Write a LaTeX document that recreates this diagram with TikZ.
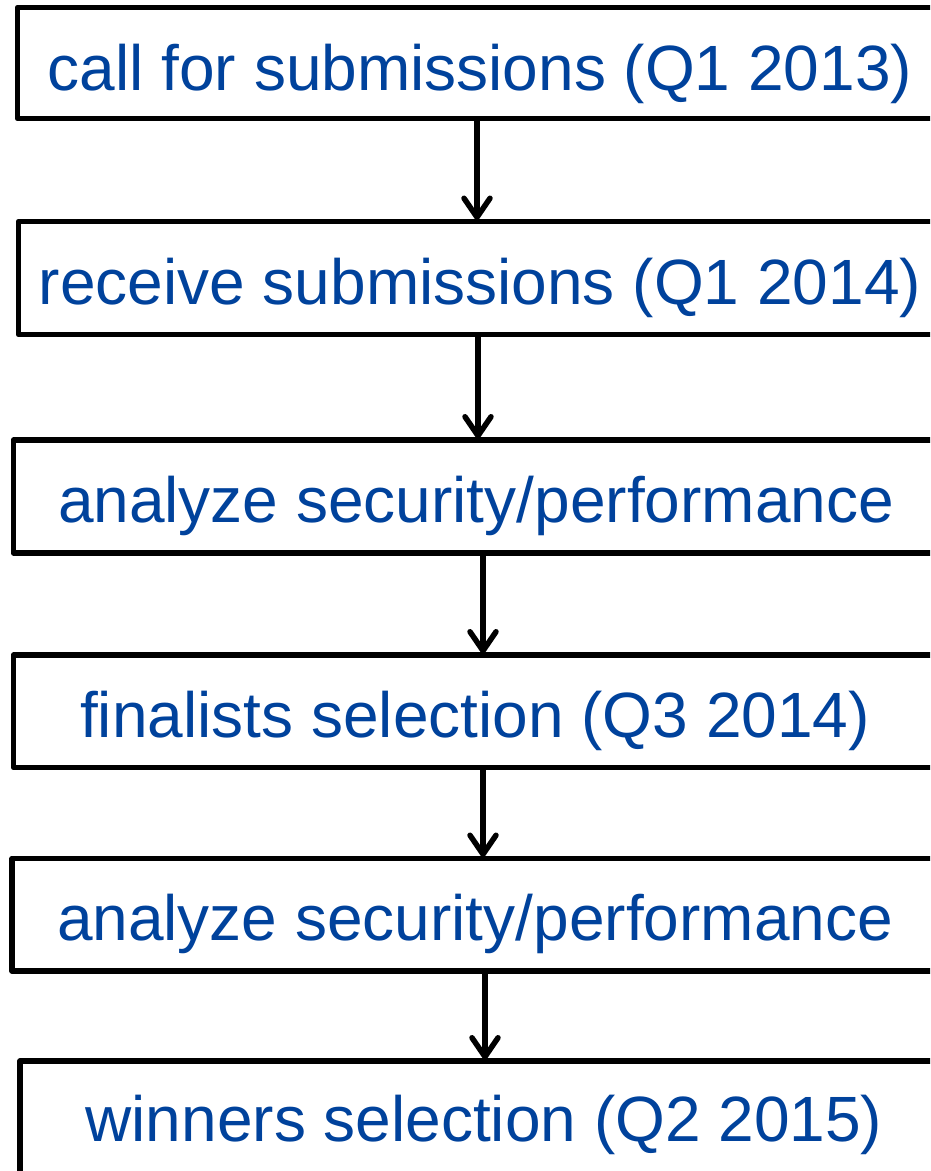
\documentclass[tikz,border=0pt]{standalone}
\usepackage{fontspec}
\setmainfont{Liberation Sans}
\usetikzlibrary{arrows.meta}
\definecolor{txtblue}{RGB}{0,66,156}
\tikzset{
  stagebox/.style={draw=black, line width=5.5pt, line join=round, fill=white,
                   inner sep=0pt, outer sep=0pt, anchor=north west},
  stagetext/.style={text=txtblue, font=\fontsize{64}{76}\selectfont, anchor=base, inner sep=0pt},
  flow/.style={draw=black, line width=5.5pt,
               -{Straight Barb[length=19pt,width=26pt,line cap=round,line join=round]}}
}
\begin{document}
\begin{tikzpicture}[x=1pt,y=-1pt]
\clip (0,0) rectangle (930,1171);
\fill[white] (0,0) rectangle (930,1171);
% boxes (north west corner, width, height)
\node[stagebox, minimum width=960pt, minimum height=111pt] (b1) at (17.5,7.5) {};
\node[stagebox, minimum width=960pt, minimum height=113pt] (b2) at (18.5,221.5) {};
\node[stagebox, minimum width=960pt, minimum height=113pt] (b3) at (13.5,440) {};
\node[stagebox, minimum width=960pt, minimum height=112.5pt] (b4) at (13.5,655) {};
\node[stagebox, minimum width=960pt, minimum height=112.5pt] (b5) at (12,858.5) {};
\node[stagebox, minimum width=960pt, minimum height=160pt] (b6) at (20,1061) {};
% texts
\node[stagetext] (t1) at (480,90) {call for submissions (Q1 2013)};
\node[stagetext] (t2) at (480,304) {receive submissions (Q1 2014)};
\node[stagetext] (t3) at (476,522) {analyze security/performance};
\node[stagetext] (t4) at (475,737) {finalists selection (Q3 2014)};
\node[stagetext] (t5) at (475,940) {analyze security/performance};
\node[stagetext] (t6) at (484,1141) {winners selection (Q2 2015)};
% arrow columns
\coordinate (c1) at (477,0);
\coordinate (c2) at (478,0);
\coordinate (c3) at (483,0);
\coordinate (c4) at (483,0);
\coordinate (c5) at (485,0);
\draw[flow] (b1.south -| c1) -- ([yshift=1.5pt]b2.north -| c1);
\draw[flow] (b2.south -| c2) -- ([yshift=1.5pt]b3.north -| c2);
\draw[flow] (b3.south -| c3) -- ([yshift=1.5pt]b4.north -| c3);
\draw[flow] (b4.south -| c4) -- ([yshift=1.5pt]b5.north -| c4);
\draw[flow] (b5.south -| c5) -- ([yshift=1.5pt]b6.north -| c5);
\end{tikzpicture}
\end{document}
